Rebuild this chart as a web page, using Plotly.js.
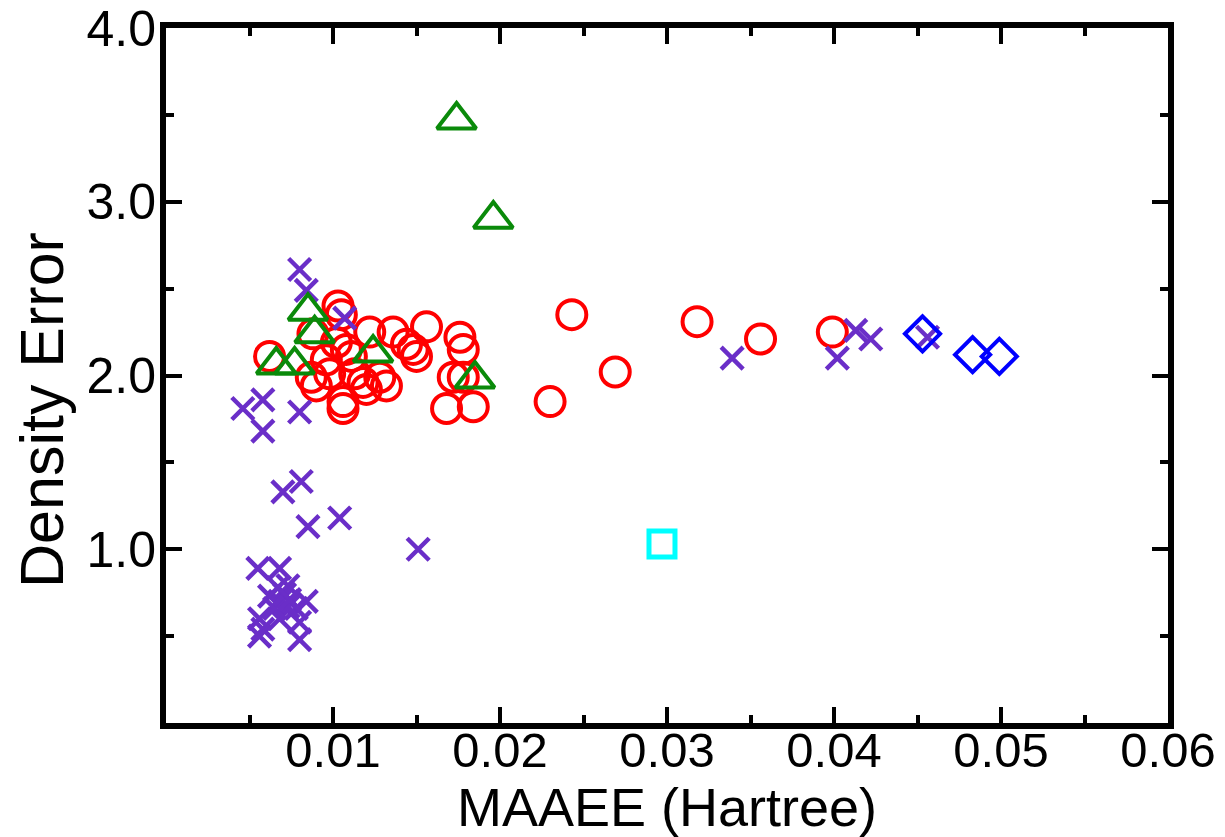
<!DOCTYPE html>
<html>
<head>
<meta charset="utf-8">
<script src="https://cdn.plot.ly/plotly-3.0.1.min.js"></script>
<style>html,body{margin:0;padding:0;background:#fff;}#chart{width:1225px;height:837px;}</style>
</head>
<body>
<div id="chart"></div>
<script>
// Red circles
var circleX = [0.0062,0.0103,0.0105,0.0088,0.0087,0.0090,0.0096,0.0102,0.0108,0.0111,0.0106,0.0106,0.0118,0.0122,0.0120,0.0128,0.0132,0.0136,0.0144,0.0148,0.0150,0.0156,0.0176,0.0178,0.0172,0.0178,0.0168,0.0184,0.0098,0.0113,0.0230,0.0243,0.0269,0.0318,0.0356,0.0399];
var circleY = [2.11,2.40,2.35,2.24,1.99,1.94,2.09,2.19,2.15,2.11,1.85,1.81,1.96,2.25,1.92,1.99,1.94,2.25,2.18,2.15,2.11,2.28,2.22,2.15,1.99,1.99,1.81,1.82,2.01,2.01,1.85,2.35,2.02,2.31,2.21,2.25];
// Purple crosses
var crossX = [0.0046,0.0058,0.0058,0.0080,0.0080,0.0084,0.0107,0.0070,0.0081,0.0085,0.0104,0.0151,0.0055,0.0068,0.0068,0.0073,0.0062,0.0078,0.0084,0.0056,0.0058,0.0056,0.0080,0.0080,0.0068,0.0073,0.0065,0.0071,0.0074,0.0067,0.0339,0.0402,0.0413,0.0422,0.0456];
var crossY = [1.81,1.86,1.68,1.79,2.61,2.49,2.33,1.33,1.39,1.13,1.18,1.00,0.89,0.89,0.70,0.79,0.73,0.66,0.70,0.60,0.54,0.50,0.58,0.48,0.60,0.67,0.66,0.74,0.71,0.78,2.10,2.10,2.26,2.21,2.22];
// Green triangles
var triX = [0.0174,0.0196,0.0085,0.0089,0.0066,0.0077,0.0124,0.0185];
var triY = [3.47,2.90,2.37,2.24,2.06,2.06,2.13,1.98];
// Blue diamonds
var diaX = [0.0453,0.0483,0.0499];
var diaY = [2.24,2.12,2.11];
// Cyan square
var sqX = [0.0297];
var sqY = [1.03];

// Axis ticks and titles
var xTickVals = [0.01,0.02,0.03,0.04,0.05,0.06];
var xTickText = ['0.01','0.02','0.03','0.04','0.05','0.06'];
var xMinorVals = [0.005,0.015,0.025,0.035,0.045,0.055];
var yTickVals = [1,2,3,4];
var yTickText = ['1.0','2.0','3.0','4.0'];
var yMinorVals = [0.5,1.5,2.5,3.5];
var xTitle = 'MAAEE (Hartree)';
var yTitle = 'Density Error';

var traces = [
  {x: circleX, y: circleY, type:'scatter', mode:'markers', name:'circles',
   marker:{symbol:'circle-open', size:29, color:'#ff0000', line:{width:4, color:'#ff0000'}}},
  {x: crossX, y: crossY, type:'scatter', mode:'markers', name:'crosses',
   marker:{symbol:'x-thin-open', size:22, color:'#6a2ec8', line:{width:4.5, color:'#6a2ec8'}}},
  {x: triX, y: triY, type:'scatter', mode:'markers', name:'triangles',
   marker:{symbol:'triangle-up-open', size:34, color:'#0a8a0a', line:{width:4, color:'#0a8a0a'}}},
  {x: diaX, y: diaY, type:'scatter', mode:'markers', name:'diamonds',
   marker:{symbol:'diamond-open', size:27, color:'#0000ff', line:{width:4, color:'#0000ff'}}},
  {x: sqX, y: sqY, type:'scatter', mode:'markers', name:'square',
   marker:{symbol:'square-open', size:26, color:'#00ffff', line:{width:5, color:'#00ffff'}}}
];

var fontFam = 'Liberation Sans, Arial, Helvetica, sans-serif';
var layout = {
  width:1225, height:837,
  margin:{l:166, r:57, t:28, b:114},
  paper_bgcolor:'#fff', plot_bgcolor:'#fff',
  showlegend:false,
  font:{family:fontFam, color:'#000', size:50},
  xaxis:{
    range:[0,0.06], tickmode:'array', tickvals:xTickVals, ticktext:xTickText,
    ticks:'inside', ticklen:16, tickwidth:4, tickcolor:'#000',
    showline:true, linewidth:6, linecolor:'#000', mirror:'allticks',
    showgrid:false, zeroline:false,
    tickfont:{size:49, family:fontFam},
    ticklabelstandoff:-21,
    minor:{tickvals:xMinorVals, ticks:'inside', ticklen:8, tickwidth:4, tickcolor:'#000', showgrid:false},
    title:{text:xTitle, font:{size:54, family:fontFam}, standoff:0}
  },
  yaxis:{
    range:[0,4], tickmode:'array', tickvals:yTickVals, ticktext:yTickText,
    ticks:'inside', ticklen:16, tickwidth:4, tickcolor:'#000',
    showline:true, linewidth:6, linecolor:'#000', mirror:'allticks',
    showgrid:false, zeroline:false,
    tickfont:{size:50, family:fontFam},
    ticklabelstandoff:-6,
    minor:{tickvals:yMinorVals, ticks:'inside', ticklen:8, tickwidth:4, tickcolor:'#000', showgrid:false}
  },
  annotations:[{
    text:yTitle, textangle:-90, showarrow:false,
    xref:'paper', yref:'paper', x:-0.124, y:0.45, xanchor:'center', yanchor:'middle',
    font:{size:61, family:fontFam, color:'#000'}
  }]
};

Plotly.newPlot('chart', traces, layout, {displayModeBar:false, staticPlot:true});
</script>
</body>
</html>
